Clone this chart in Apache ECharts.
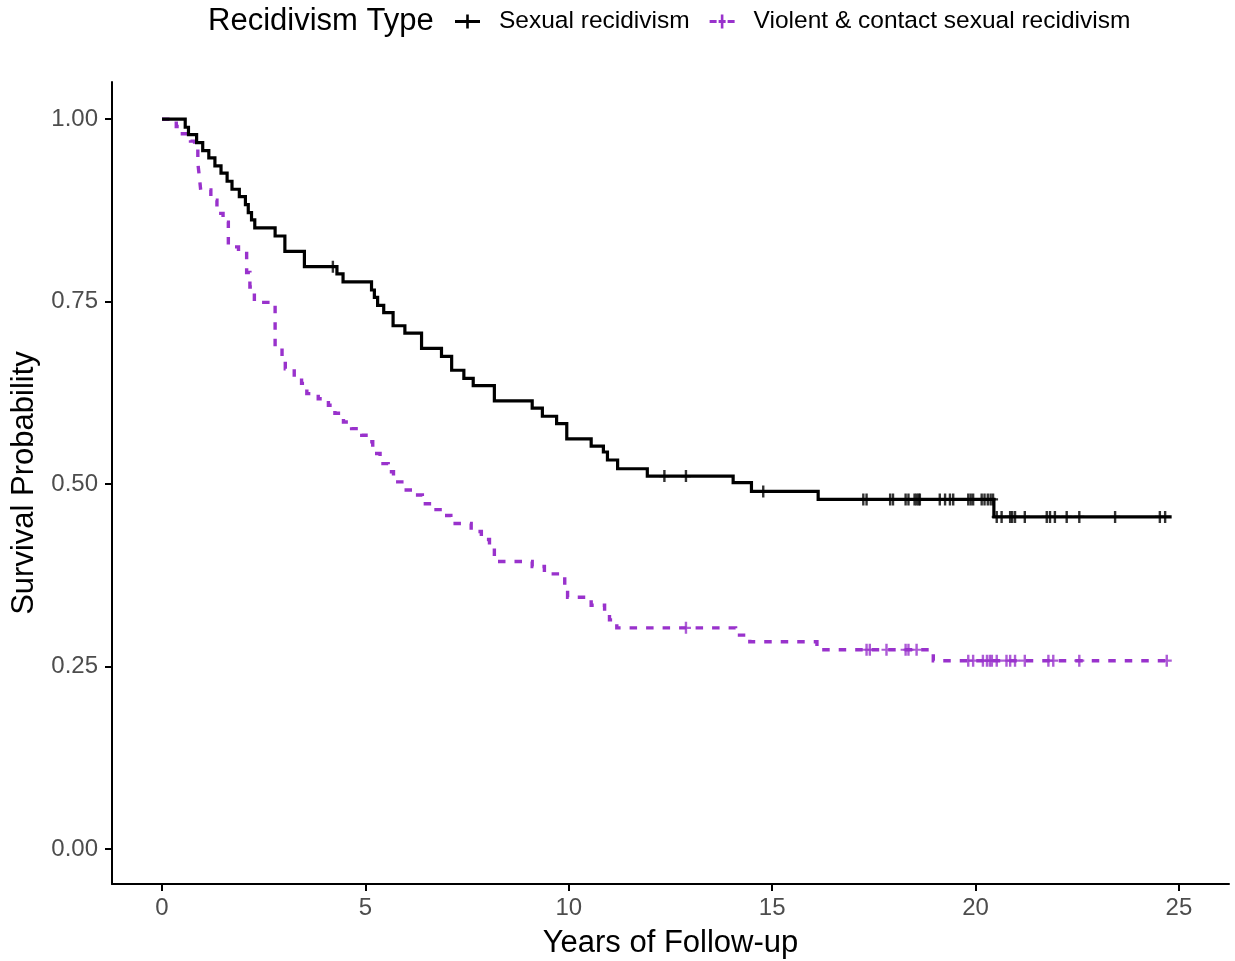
<!DOCTYPE html>
<html>
<head>
<meta charset="utf-8">
<script src="https://cdn.jsdelivr.net/npm/echarts@6/dist/echarts.min.js"></script>
<style>
html,body{margin:0;padding:0;background:#fff;}
#chart{width:1235px;height:961px;}
</style>
</head>
<body>
<div id="chart"></div>
<script>
// ---- Data ----
const seriesNames = ['Sexual recidivism', 'Violent & contact sexual recidivism'];
const legendTitle = 'Recidivism Type';
const xTitle = 'Years of Follow-up';
const yTitle = 'Survival Probability';
const xTicks = [0, 5, 10, 15, 20, 25];
const yTicks = [0, 0.25, 0.5, 0.75, 1.0];
const followUpEnd = 24.82;

// Sexual recidivism: event times and survival after each event
const sexualTimes = [0, 0.57, 0.65, 0.85, 1.0, 1.15, 1.3, 1.45, 1.6, 1.72, 1.9, 2.05, 2.12, 2.2, 2.28,
  2.78, 3.02, 3.5, 4.3, 4.45, 5.15, 5.22, 5.3, 5.45, 5.68, 5.97, 6.38, 6.87, 7.12, 7.42, 7.65, 8.17,
  9.1, 9.35, 9.7, 9.95, 10.55, 10.85, 10.95, 11.2, 11.93, 14.04, 14.49, 16.13, 20.45];
const sexualSurv = [1.0, 0.989, 0.979, 0.968, 0.957, 0.947, 0.936, 0.926, 0.915, 0.904, 0.894, 0.883, 0.872, 0.862, 0.851,
  0.840, 0.819, 0.798, 0.788, 0.777, 0.766, 0.756, 0.745, 0.735, 0.717, 0.707, 0.686, 0.675, 0.656, 0.645, 0.635, 0.614,
  0.604, 0.593, 0.583, 0.562, 0.552, 0.544, 0.533, 0.521, 0.511, 0.502, 0.490, 0.479, 0.455];
const sexualCensor = [4.2, 12.35, 12.88, 14.78, 17.24, 17.32, 17.9, 17.97, 18.28, 18.35, 18.5, 18.55, 18.6, 18.63,
  19.12, 19.25, 19.37, 19.45, 19.82, 19.88, 19.94, 20.15, 20.22, 20.3, 20.37, 20.43, 20.52, 20.64, 20.85, 20.9, 20.97,
  21.21, 21.75, 21.83, 21.95, 22.24, 22.55, 23.43, 24.53, 24.66];

// Violent & contact sexual recidivism
const violentTimes = [0, 0.35, 0.5, 0.7, 0.8, 0.88, 0.92, 0.95, 1.2, 1.35, 1.5, 1.63, 1.88, 2.08, 2.16, 2.27,
  2.78, 2.95, 3.03, 3.25, 3.43, 3.56, 3.84, 4.09, 4.25, 4.46, 4.66, 4.91, 5.1, 5.18, 5.36, 5.56, 5.69,
  5.95, 6.2, 6.4, 6.65, 6.9, 7.1, 7.6, 7.85, 8.05, 8.17, 9.1, 9.4, 9.9, 9.97, 10.55, 10.88, 11.0, 11.18,
  14.1, 14.45, 16.1, 18.96];
const violentSurv = [1.0, 0.99, 0.98, 0.97, 0.96, 0.94, 0.92, 0.903, 0.889, 0.871, 0.859, 0.825, 0.816, 0.79, 0.77, 0.749,
  0.688, 0.674, 0.658, 0.645, 0.638, 0.624, 0.617, 0.608, 0.597, 0.585, 0.576, 0.567, 0.558, 0.542, 0.528, 0.517, 0.503,
  0.492, 0.485, 0.473, 0.465, 0.457, 0.446, 0.435, 0.424, 0.414, 0.394, 0.387, 0.377, 0.362, 0.345, 0.334, 0.324, 0.314, 0.303,
  0.293, 0.284, 0.273, 0.258];
const violentCensor = [12.88, 17.32, 17.4, 17.81, 18.28, 18.35, 18.55, 19.82, 19.94, 20.18, 20.28, 20.35, 20.4, 20.52,
  20.76, 20.85, 20.97, 21.21, 21.79, 21.91, 22.55, 24.7];

// ---- Build series data ----
function stepData(times, surv, end) {
  const d = times.map((t, i) => [t, surv[i]]);
  d.push([end, surv[surv.length - 1]]);
  return d;
}
function censorData(cTimes, times, surv) {
  return cTimes.map(t => {
    let s = surv[0];
    for (let i = 0; i < times.length; i++) { if (times[i] <= t) s = surv[i]; }
    return [t, s];
  });
}

const FONT = '"Liberation Sans", Arial, Helvetica, sans-serif';
const BLACK = '#000000';
const PURPLE = '#9932CC';
const censorSymbol = 'path://M3.8,0H6.2V12H3.8Z M0,4.9H10V7.1H0Z';
const legendBlack = 'path://M0,5.5H25V8.5H0Z M11.2,0H13.8V14H11.2Z';
const legendPurple = 'path://M0,5.5H7V8.5H0Z M9,5.5H16V8.5H9Z M18,5.5H25V8.5H18Z M11.2,0H13.8V14H11.2Z';

const chart = echarts.init(document.getElementById('chart'), null, {renderer: 'canvas'});
chart.setOption({
  animation: false,
  backgroundColor: '#ffffff',
  title: {
    text: legendTitle,
    left: 208, top: 6, padding: 0,
    textStyle: {fontFamily: FONT, fontSize: 31, fontWeight: 'normal', color: '#000'}
  },
  legend: {
    left: 455, top: 9, padding: 0,
    itemWidth: 25, itemHeight: 14, itemGap: 20,
    selectedMode: false,
    textStyle: {fontFamily: FONT, fontSize: 24.5, color: '#000', padding: [0, 0, 0, 14]},
    data: [
      {name: seriesNames[0], icon: legendBlack},
      {name: seriesNames[1], icon: legendPurple}
    ]
  },
  grid: {left: 112, right: 6, top: 82, bottom: 77, containLabel: false, outerBoundsMode: 'none'},
  xAxis: {
    type: 'value', min: -1.23, max: 26.23,
    name: xTitle, nameLocation: 'middle', nameGap: 44,
    nameTextStyle: {fontFamily: FONT, fontSize: 31, color: '#000'},
    axisLine: {show: true, onZero: false, lineStyle: {color: '#000', width: 2}},
    axisTick: {show: true, length: 7, lineStyle: {color: '#000', width: 2}, customValues: xTicks},
    axisLabel: {fontFamily: FONT, fontSize: 24, color: '#4D4D4D', margin: 12, customValues: xTicks,
      formatter: v => String(v)},
    splitLine: {show: false}
  },
  yAxis: {
    type: 'value', min: -0.048, max: 1.051,
    name: yTitle, nameLocation: 'middle', nameGap: 68, nameRotate: 90,
    nameTextStyle: {fontFamily: FONT, fontSize: 31, color: '#000'},
    axisLine: {show: true, onZero: false, lineStyle: {color: '#000', width: 2}},
    axisTick: {show: true, length: 7, lineStyle: {color: '#000', width: 2}, customValues: yTicks},
    axisLabel: {fontFamily: FONT, fontSize: 24, color: '#4D4D4D', margin: 14, customValues: yTicks,
      formatter: v => Number(v).toFixed(2)},
    splitLine: {show: false}
  },
  series: [
    {
      name: seriesNames[0], type: 'line', step: 'end', symbol: 'none', z: 3,
      data: stepData(sexualTimes, sexualSurv, followUpEnd),
      itemStyle: {color: BLACK},
      lineStyle: {color: BLACK, width: 3.2, cap: 'butt', join: 'miter'}
    },
    {
      name: seriesNames[1], type: 'line', step: 'end', symbol: 'none', z: 2,
      data: stepData(violentTimes, violentSurv, followUpEnd),
      itemStyle: {color: PURPLE},
      lineStyle: {color: PURPLE, width: 3.4, type: [7.5, 9], cap: 'butt', join: 'miter'}
    },
    {
      name: seriesNames[0], type: 'scatter', symbol: censorSymbol, symbolSize: [10, 12], z: 4,
      data: censorData(sexualCensor, sexualTimes, sexualSurv),
      itemStyle: {color: BLACK}, silent: true
    },
    {
      name: seriesNames[1], type: 'scatter', symbol: censorSymbol, symbolSize: [10, 12], z: 4,
      data: censorData(violentCensor, violentTimes, violentSurv),
      itemStyle: {color: PURPLE}, silent: true
    }
  ]
});
</script>
</body>
</html>
